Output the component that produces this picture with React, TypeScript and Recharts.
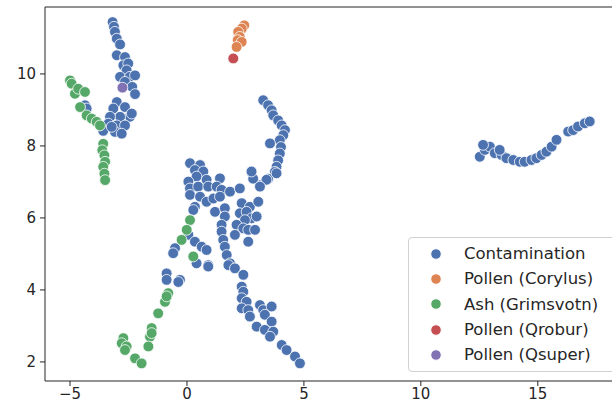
import React from 'react';
import { ScatterChart, Scatter, XAxis, YAxis, ReferenceLine } from 'recharts';

const contamination = [
  { x: -3.18, y: 11.44 }, { x: -3.12, y: 11.31 }, { x: -3.08, y: 11.17 }, { x: -3.0, y: 10.98 },
  { x: -2.86, y: 10.82 }, { x: -3.0, y: 10.52 }, { x: -2.65, y: 10.47 }, { x: -2.72, y: 10.24 },
  { x: -2.51, y: 10.29 }, { x: -2.58, y: 10.1 }, { x: -2.86, y: 9.92 }, { x: -2.44, y: 9.92 },
  { x: -2.22, y: 9.96 }, { x: -2.65, y: 9.78 }, { x: -2.34, y: 9.64 }, { x: -2.22, y: 9.44 },
  { x: -4.36, y: 9.13 }, { x: -4.29, y: 9.04 }, { x: -3.0, y: 9.22 }, { x: -2.65, y: 9.08 },
  { x: -3.15, y: 9.04 }, { x: -2.44, y: 8.81 }, { x: -2.86, y: 8.81 }, { x: -3.29, y: 8.81 },
  { x: -3.36, y: 8.62 }, { x: -3.0, y: 8.57 }, { x: -2.65, y: 8.57 }, { x: -3.08, y: 8.39 },
  { x: -2.79, y: 8.34 }, { x: -3.58, y: 8.42 }, { x: -3.22, y: 8.53 }, { x: -2.36, y: 8.9 },
  { x: 3.26, y: 9.27 }, { x: 3.47, y: 9.13 }, { x: 3.62, y: 8.99 }, { x: 3.69, y: 8.85 },
  { x: 3.9, y: 8.71 }, { x: 4.05, y: 8.57 }, { x: 4.19, y: 8.44 }, { x: 4.12, y: 8.3 },
  { x: 3.97, y: 8.16 }, { x: 4.02, y: 7.97 }, { x: 3.97, y: 7.79 }, { x: 3.9, y: 7.6 },
  { x: 3.83, y: 7.42 }, { x: 3.76, y: 7.28 }, { x: 3.47, y: 7.09 }, { x: 3.12, y: 6.91 },
  { x: 2.76, y: 7.28 }, { x: 2.83, y: 7.09 }, { x: 3.55, y: 8.07 }, { x: 3.83, y: 7.24 },
  { x: 3.4, y: 7.06 }, { x: 3.12, y: 6.87 }, { x: 2.76, y: 7.29 },
  { x: 0.13, y: 7.52 }, { x: 0.56, y: 7.47 }, { x: 0.34, y: 7.33 }, { x: 0.7, y: 7.29 },
  { x: 0.41, y: 7.15 }, { x: 0.84, y: 7.06 }, { x: 1.41, y: 7.1 }, { x: 0.06, y: 7.01 },
  { x: 0.13, y: 6.82 }, { x: 0.48, y: 6.87 }, { x: 0.91, y: 6.87 }, { x: 1.27, y: 6.87 },
  { x: 1.48, y: 6.78 }, { x: 1.84, y: 6.73 }, { x: 2.26, y: 6.82 }, { x: 0.13, y: 6.64 },
  { x: 0.56, y: 6.59 }, { x: 0.84, y: 6.45 }, { x: 1.13, y: 6.54 }, { x: 1.41, y: 6.59 },
  { x: 0.34, y: 6.31 }, { x: 1.2, y: 6.17 }, { x: 1.62, y: 6.27 }, { x: 2.34, y: 6.41 },
  { x: 2.69, y: 6.31 }, { x: 3.05, y: 6.45 }, { x: 1.62, y: 6.04 }, { x: 2.26, y: 6.13 },
  { x: 2.55, y: 6.17 }, { x: 2.76, y: 5.99 }, { x: 2.98, y: 6.04 }, { x: 2.48, y: 5.94 },
  { x: 2.12, y: 5.81 }, { x: 1.48, y: 5.81 }, { x: 2.41, y: 5.71 }, { x: 2.62, y: 5.67 },
  { x: 2.91, y: 5.67 }, { x: 2.05, y: 5.53 }, { x: 1.48, y: 5.62 }, { x: 2.62, y: 5.34 },
  { x: 1.55, y: 5.39 }, { x: 0.27, y: 6.22 }, { x: 0.06, y: 5.53 }, { x: 0.34, y: 5.34 },
  { x: 0.63, y: 5.2 }, { x: 0.84, y: 5.11 }, { x: -0.51, y: 5.16 }, { x: -0.59, y: 5.02 },
  { x: 0.41, y: 4.74 }, { x: 0.91, y: 4.69 }, { x: 1.62, y: 5.2 }, { x: 1.7, y: 4.97 },
  { x: 1.84, y: 4.74 }, { x: 0.91, y: 4.65 }, { x: 1.77, y: 4.69 }, { x: 2.05, y: 4.6 },
  { x: -0.87, y: 4.46 }, { x: -0.87, y: 4.28 }, { x: -0.3, y: 4.28 }, { x: -0.37, y: 4.22 },
  { x: 2.41, y: 4.42 }, { x: 2.34, y: 4.09 }, { x: 2.41, y: 3.95 }, { x: 2.34, y: 3.77 },
  { x: 2.55, y: 3.67 }, { x: 2.34, y: 3.49 }, { x: 2.62, y: 3.44 }, { x: 2.69, y: 3.26 },
  { x: 3.12, y: 3.58 }, { x: 3.26, y: 3.44 }, { x: 3.62, y: 3.54 }, { x: 3.33, y: 3.31 },
  { x: 3.62, y: 3.12 }, { x: 2.98, y: 2.98 }, { x: 3.33, y: 2.89 }, { x: 3.69, y: 2.84 },
  { x: 3.55, y: 2.7 }, { x: 4.05, y: 2.47 }, { x: 4.26, y: 2.33 }, { x: 4.62, y: 2.15 },
  { x: 4.83, y: 1.96 },
  { x: 12.52, y: 7.7 }, { x: 12.74, y: 7.89 }, { x: 12.95, y: 7.98 }, { x: 13.16, y: 7.8 },
  { x: 13.45, y: 7.75 }, { x: 13.66, y: 7.66 }, { x: 13.95, y: 7.61 }, { x: 14.23, y: 7.56 },
  { x: 14.44, y: 7.56 }, { x: 14.73, y: 7.61 }, { x: 14.94, y: 7.66 }, { x: 15.16, y: 7.75 },
  { x: 15.37, y: 7.84 }, { x: 15.59, y: 7.98 }, { x: 15.8, y: 8.17 }, { x: 16.3, y: 8.4 },
  { x: 16.51, y: 8.44 }, { x: 16.72, y: 8.54 }, { x: 17.01, y: 8.63 }, { x: 17.22, y: 8.68 },
  { x: 12.66, y: 8.03 }, { x: 13.37, y: 7.89 },
];

const pollenCorylus = [
  { x: 2.45, y: 11.35 }, { x: 2.34, y: 11.26 }, { x: 2.19, y: 11.17 }, { x: 2.26, y: 11.03 },
  { x: 2.17, y: 10.94 }, { x: 2.34, y: 10.89 }, { x: 2.12, y: 10.75 },
];

const ashGrimsvotn = [
  { x: -5.0, y: 9.82 }, { x: -4.93, y: 9.73 }, { x: -4.79, y: 9.45 }, { x: -4.65, y: 9.59 },
  { x: -4.36, y: 9.5 }, { x: -4.57, y: 9.08 }, { x: -4.29, y: 8.85 }, { x: -4.07, y: 8.76 },
  { x: -3.86, y: 8.67 }, { x: -3.72, y: 8.57 }, { x: -3.58, y: 8.06 }, { x: -3.62, y: 7.88 },
  { x: -3.53, y: 7.74 }, { x: -3.5, y: 7.56 }, { x: -3.58, y: 7.42 }, { x: -3.53, y: 7.23 },
  { x: -3.5, y: 7.05 },
  { x: 0.13, y: 5.94 }, { x: -0.01, y: 5.67 }, { x: -0.23, y: 5.39 }, { x: 0.27, y: 4.93 },
  { x: -0.8, y: 3.91 }, { x: -0.94, y: 3.67 }, { x: -0.87, y: 3.82 }, { x: -1.23, y: 3.35 },
  { x: -1.51, y: 2.94 }, { x: -1.58, y: 2.7 }, { x: -1.51, y: 2.8 }, { x: -1.65, y: 2.43 },
  { x: -2.22, y: 2.1 }, { x: -1.94, y: 1.96 }, { x: -2.72, y: 2.66 }, { x: -2.79, y: 2.52 },
  { x: -2.58, y: 2.43 }, { x: -2.65, y: 2.33 },
];

const pollenQrobur = [{ x: 1.98, y: 10.43 }];

const pollenQsuper = [{ x: -2.76, y: 9.62 }];

const seriesNames = ['Contamination', 'Pollen (Corylus)', 'Ash (Grimsvotn)', 'Pollen (Qrobur)', 'Pollen (Qsuper)'];
const seriesColors = ['#4c72b0', '#dd8452', '#55a868', '#c44e52', '#8172b3'];
const seriesData = [contamination, pollenCorylus, ashGrimsvotn, pollenQrobur, pollenQsuper];

const xTicks = [-5, 0, 5, 10, 15];
const yTicks = [2, 4, 6, 8, 10];

const X_DOMAIN = [-6.07, 18.6];
const Y_DOMAIN = [1.47, 11.86];

const FONT = '"DejaVu Sans", sans-serif';

const fmt = (v: number) => String(v).replace('-', '\u2212');

const Dot = (props: any) => {
  const { cx, cy, fill } = props;
  return <circle cx={cx} cy={cy} r={5.4} fill={fill} stroke="#ffffff" strokeWidth={0.8} />;
};

// seaborn-style legend box, drawn over the plot's lower right corner
const LegendBox = () => (
  <div
    style={{
      position: 'absolute',
      left: 408,
      top: 237,
      width: 215,
      border: '1px solid #d0d0d0',
      borderRadius: 4,
      background: 'rgba(255,255,255,0.85)',
      padding: '3px 0 4px 0',
      fontFamily: FONT,
      fontSize: 16.5,
      color: '#262626',
    }}
  >
    {seriesNames.map((name, i) => (
      <div key={name} style={{ display: 'flex', alignItems: 'center', height: 25.3 }}>
        <svg width={55} height={14} style={{ flex: 'none' }}>
          <circle cx={27} cy={7} r={5.2} fill={seriesColors[i]} stroke="#fff" strokeWidth={0.8} />
        </svg>
        <span style={{ whiteSpace: 'nowrap' }}>{name}</span>
      </div>
    ))}
  </div>
);

export default function App() {
  return (
    <div style={{ position: 'absolute', left: 0, top: 0, width: 612, height: 410, overflow: 'hidden', background: '#fff' }}>
      <ScatterChart width={622} height={410} margin={{ top: 7, right: 0, bottom: 0, left: 0 }}>
        <XAxis
          type="number"
          dataKey="x"
          domain={X_DOMAIN}
          allowDataOverflow
          ticks={xTicks}
          tickFormatter={fmt}
          height={29}
          tickSize={5}
          tickMargin={2}
          axisLine={{ stroke: '#262626', strokeWidth: 1 }}
          tickLine={{ stroke: '#262626' }}
          tick={{ fill: '#262626', fontSize: 15, fontFamily: FONT }}
        />
        <YAxis
          type="number"
          dataKey="y"
          domain={Y_DOMAIN}
          allowDataOverflow
          ticks={yTicks}
          tickFormatter={fmt}
          width={45}
          tickSize={5}
          tickMargin={4}
          axisLine={{ stroke: '#262626', strokeWidth: 1 }}
          tickLine={{ stroke: '#262626' }}
          tick={{ fill: '#262626', fontSize: 15, fontFamily: FONT }}
        />
        <ReferenceLine y={Y_DOMAIN[1]} stroke="#262626" strokeWidth={1} />
        {seriesData.map((d, i) => (
          <Scatter
            key={seriesNames[i]}
            name={seriesNames[i]}
            data={d}
            fill={seriesColors[i]}
            shape={<Dot />}
            isAnimationActive={false}
          />
        ))}
      </ScatterChart>
      <LegendBox />
    </div>
  );
}
